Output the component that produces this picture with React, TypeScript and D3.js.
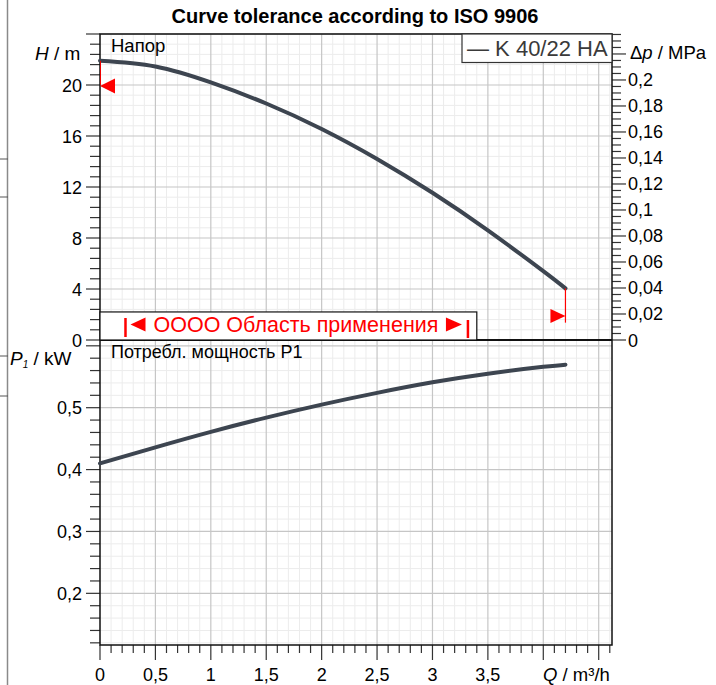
import React from 'react';
import * as d3 from 'd3';

const chartTitle = 'Curve tolerance according to ISO 9906';
const legendLabel = '— K 40/22 HA';
const headLabel = 'Напор';
const powerLabel = 'Потребл. мощность P1';
const rangeLabel = 'OOOO Область применения';

const flowQ = [0, 0.5, 1, 1.5, 2, 2.5, 3, 3.5, 4, 4.2];
const headH = [21.9, 21.45, 20.2, 18.55, 16.55, 14.2, 11.55, 8.6, 5.4, 4.05];
const powerP = [0.41, 0.436, 0.461, 0.484, 0.505, 0.524, 0.541, 0.555, 0.566, 0.5695];

const xTickLabels = [0, 0.5, 1, 1.5, 2, 2.5, 3, 3.5];
const hTickLabels = [0, 4, 8, 12, 16, 20];
const dpTickLabels = [0, 0.02, 0.04, 0.06, 0.08, 0.1, 0.12, 0.14, 0.16, 0.18, 0.2];
const pTickLabels = [0.2, 0.3, 0.4, 0.5];

const rangeQ = [0.23, 3.32];
const rangeBox = [3.4, 2.2];
const tolLeft = [0, 20];
const tolRight = [4.2, 1.88, 1.36];

const FONT = '"Liberation Sans", Arial, sans-serif';
const fmt = (d: number) => String(+d.toFixed(3)).replace('.', ',');

export default function App() {
  const L = 100, R = 612, T = 34, M = 340, B = 645;
  const x = d3.scaleLinear().domain([0, 4.62]).range([L, R]);
  const yH = d3.scaleLinear().domain([0, 24]).range([M, T]);
  const yDp = d3.scaleLinear().domain([0, 24 * 0.00980665]).range([M, T]);
  const yP = d3.scaleLinear().domain([0.1165, 0.6094]).range([B, M]);

  const pts = flowQ.map((q, i) => ({ q, h: headH[i], p: powerP[i] }));
  const hLine = d3.line<any>().x(d => x(d.q)).y(d => yH(d.h)).curve(d3.curveNatural)(pts) as string;
  const pLine = d3.line<any>().x(d => x(d.q)).y(d => yP(d.p)).curve(d3.curveNatural)(pts) as string;

  const qMinor = d3.range(0, 47).map(i => i / 10);
  const hMinor = d3.range(0, 31).map(i => i * 0.8);
  const pMinor = d3.range(6, 31).map(i => i / 50);
  const dpMinor = d3.range(0, 48).map(i => i * 0.005);

  const isMajorQ = (q: number) => Math.abs(q * 2 - Math.round(q * 2)) < 1e-6;
  const isMajorH = (h: number) => Math.abs(h / 4 - Math.round(h / 4)) < 1e-6;
  const isMajorP = (p: number) => Math.abs(p * 10 - Math.round(p * 10)) < 1e-6;
  const isMajorDp = (v: number) => Math.abs(v * 50 - Math.round(v * 50)) < 1e-6;

  const minorC = '#ececec', majorC = '#c6c6c6', tickC = '#333';

  const tlx = x(tolLeft[0]), tly = yH(tolLeft[1]);
  const trx = x(tolRight[0]), trTri = yH(tolRight[1]);

  const rx1 = x(rangeQ[0]), rx2 = x(rangeQ[1]);
  const rTop = yH(rangeBox[1]);

  return (
    <svg width={716} height={685} style={{ position: 'absolute', left: 0, top: 0, background: '#fff' }} fontFamily={FONT}>
      <rect x={0} y={0} width={716} height={685} fill="#fff" />
      {/* left page artifact */}
      <line x1={7.5} x2={7.5} y1={0} y2={685} stroke="#8a8a8a" strokeWidth={1.5} />
      {[159, 197, 356, 396].map(v => (
        <line key={v} x1={0} x2={8} y1={v} y2={v} stroke="#555" strokeWidth={1} />
      ))}

      <text x={355} y={23} textAnchor="middle" fontWeight="bold" fontSize={20}>{chartTitle}</text>

      {/* grid */}
      {qMinor.filter(q => !isMajorQ(q)).map(q => (
        <line key={'qm' + q} x1={x(q)} x2={x(q)} y1={T} y2={B} stroke={minorC} strokeWidth={1} />
      ))}
      {hMinor.filter(h => !isMajorH(h)).map(h => (
        <line key={'hm' + h} x1={L} x2={R} y1={yH(h)} y2={yH(h)} stroke={minorC} strokeWidth={1} />
      ))}
      {pMinor.filter(p => !isMajorP(p)).map(p => (
        <line key={'pm' + p} x1={L} x2={R} y1={yP(p)} y2={yP(p)} stroke={minorC} strokeWidth={1} />
      ))}
      {qMinor.filter(q => isMajorQ(q) && q > 0).map(q => (
        <line key={'qM' + q} x1={x(q)} x2={x(q)} y1={T} y2={B} stroke={majorC} strokeWidth={1.2} />
      ))}
      {hMinor.filter(h => isMajorH(h) && h > 0).map(h => (
        <line key={'hM' + h} x1={L} x2={R} y1={yH(h)} y2={yH(h)} stroke={majorC} strokeWidth={1.2} />
      ))}
      {pMinor.filter(p => isMajorP(p)).map(p => (
        <line key={'pM' + p} x1={L} x2={R} y1={yP(p)} y2={yP(p)} stroke={majorC} strokeWidth={1.2} />
      ))}

      {/* left ticks */}
      {hMinor.map(h => (
        <line key={'ht' + h} x1={isMajorH(h) ? L - 14 : L - 10} x2={L} y1={yH(h)} y2={yH(h)} stroke={tickC} strokeWidth={1.2} />
      ))}
      {pMinor.map(p => (
        <line key={'pt' + p} x1={isMajorP(p) ? L - 14 : L - 10} x2={L} y1={yP(p)} y2={yP(p)} stroke={tickC} strokeWidth={1.2} />
      ))}
      {/* right ticks */}
      {dpMinor.map(v => (
        <line key={'dt' + v} x1={R} x2={isMajorDp(v) ? R + 14 : R + 9} y1={yDp(v)} y2={yDp(v)} stroke={tickC} strokeWidth={1.2} />
      ))}
      {/* bottom ticks */}
      {qMinor.map(q => (
        <line key={'qt' + q} x1={x(q)} x2={x(q)} y1={B} y2={isMajorQ(q) ? B + 15 : B + 8} stroke={tickC} strokeWidth={1.2} />
      ))}

      {/* tick labels */}
      {hTickLabels.map(h => (
        <text key={'hl' + h} x={82} y={yH(h) + 6.5} textAnchor="end" fontSize={18}>{fmt(h)}</text>
      ))}
      {pTickLabels.map(p => (
        <text key={'pl' + p} x={82} y={yP(p) + 6.5} textAnchor="end" fontSize={18}>{fmt(p)}</text>
      ))}
      {dpTickLabels.map(v => (
        <text key={'dl' + v} x={628} y={yDp(v) + 6.5} textAnchor="start" fontSize={18}>{fmt(v)}</text>
      ))}
      {xTickLabels.map(q => (
        <text key={'xl' + q} x={x(q)} y={681} textAnchor="middle" fontSize={18}>{fmt(q)}</text>
      ))}

      {/* axis titles */}
      <text x={35} y={60} fontSize={19}><tspan fontStyle="italic">H</tspan> / m</text>
      <text x={630} y={59} fontSize={18.5}>Δ<tspan fontStyle="italic">p</tspan> / MPa</text>
      <text x={10} y={365} fontSize={19}><tspan fontStyle="italic">P</tspan><tspan fontSize={10} dy={3} fontStyle="italic">1</tspan><tspan dy={-3}> / kW</tspan></text>
      <text x={543} y={681} fontSize={18.5}><tspan fontStyle="italic">Q</tspan> / m³/h</text>

      {/* frame */}
      <rect x={L} y={T} width={R - L} height={B - T} fill="none" stroke="#111" strokeWidth={1.5} />
      <line x1={L} x2={R} y1={M} y2={M} stroke="#111" strokeWidth={1.8} />

      {/* panel labels */}
      <text x={111} y={52} fontSize={18.5}>{headLabel}</text>
      <text x={111} y={358} fontSize={18}>{powerLabel}</text>

      {/* legend */}
      <rect x={462} y={T} width={R - 462} height={28.5} fill="#fff" stroke="#333" strokeWidth={1.2} />
      <text x={467} y={56} fontSize={22} fill="#3a3a3a">{legendLabel}</text>

      {/* curves */}
      <path d={hLine} fill="none" stroke="#3d4550" strokeWidth={4} strokeLinecap="round" />
      <path d={pLine} fill="none" stroke="#3d4550" strokeWidth={4} strokeLinecap="round" />

      {/* tolerance markers */}
      <line x1={tlx + 0.5} x2={tlx + 0.5} y1={yH(headH[0])} y2={tly} stroke="#e00" strokeWidth={1} />
      <path d={`M${tlx},${tly + 1} L${tlx + 15},${tly - 6.5} L${tlx + 15},${tly + 8.5} Z`} fill="#ff0000" />
      <line x1={trx} x2={trx} y1={yH(headH[headH.length - 1])} y2={yH(tolRight[2])} stroke="#ff0000" strokeWidth={1.2} />
      <path d={`M${trx},${trTri} L${trx - 15},${trTri - 7} L${trx - 15},${trTri + 7} Z`} fill="#ff0000" />

      {/* application range */}
      <rect x={L} y={rTop} width={x(rangeBox[0]) - L} height={M - rTop} fill="#fff" stroke="#111" strokeWidth={1.2} />
      <line x1={rx1} x2={rx1} y1={318} y2={337} stroke="#ff0000" strokeWidth={2.5} />
      <path d={`M${rx1 + 5},324.5 L${rx1 + 20},317.5 L${rx1 + 20},331.5 Z`} fill="#ff0000" />
      <text x={rx1 + 28} y={332} fontSize={21.5} fill="#ff0000">{rangeLabel}</text>
      <path d={`M${rx2 - 6},324.5 L${rx2 - 22},317.5 L${rx2 - 22},331.5 Z`} fill="#ff0000" />
      <line x1={rx2} x2={rx2} y1={320} y2={338} stroke="#ff0000" strokeWidth={2.5} />
    </svg>
  );
}
